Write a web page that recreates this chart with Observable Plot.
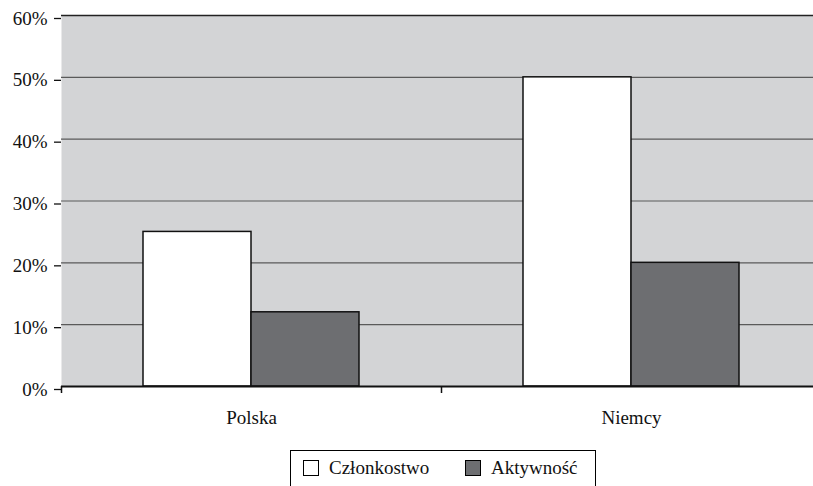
<!DOCTYPE html>
<html>
<head>
<meta charset="utf-8">
<script src="https://cdn.jsdelivr.net/npm/d3@7"></script>
<script src="https://cdn.jsdelivr.net/npm/@observablehq/plot@0.6"></script>
<style>
  body { margin: 0; background: #fff; font-family: "Liberation Serif", "Times New Roman", Times, "DejaVu Serif", "Noto Serif", serif; }
  #chart svg { display: block; }
  .legend { position: absolute; left: 290px; top: 450px; width: 306px; height: 50px; box-sizing: border-box;
    border: 1px solid #000; font-size: 19px; color: #111; }
  .item { position: absolute; top: 6px; display: flex; align-items: center; }
  .sw { width: 14px; height: 14px; border: 1px solid #000; margin-right: 10px; }
</style>
</head>
<body>
<div id="chart"></div>
<div class="legend">
  <div class="item" style="left:12px"><span class="sw" style="background:#fff"></span><span>Członkostwo</span></div>
  <div class="item" style="left:174px"><span class="sw" style="background:#6d6e71"></span><span>Aktywność</span></div>
</div>
<script>
const categories = ["Polska", "Niemcy"];
const series = ["Członkostwo", "Aktywność"];
const membership = [0.25, 0.50];
const activity = [0.12, 0.20];
const yTicks = [0, 0.1, 0.2, 0.3, 0.4, 0.5, 0.6];

const memberRows = categories.map((c, i) => ({category: c, value: membership[i]}));
const activityRows = categories.map((c, i) => ({category: c, value: activity[i]}));

const chart = Plot.plot({
  width: 813,
  height: 445,
  marginLeft: 61,
  marginRight: 0,
  marginTop: 15,
  marginBottom: 59,
  style: {fontFamily: "\"Liberation Serif\", \"Times New Roman\", Times, \"DejaVu Serif\", serif", fontSize: "19px", color: "#111", background: "#fff"},
  x: {domain: categories, range: [61, 821], padding: 0, label: null},
  y: {domain: [0, 0.6], label: null},
  marks: [
    Plot.frame({fill: "#d3d4d6", stroke: null}),
    Plot.ruleY(yTicks.slice(1, -1), {stroke: "#5a5a5a", strokeWidth: 1.2}),
    Plot.ruleY([0.6], {stroke: "#222", strokeWidth: 1.5}),
    Plot.barY(memberRows, {x: "category", y: "value", fill: "#fff", stroke: "#111", strokeWidth: 1.5, insetLeft: 82, insetRight: 190}),
    Plot.barY(activityRows, {x: "category", y: "value", fill: "#6d6e71", stroke: "#111", strokeWidth: 1.5, insetLeft: 190, insetRight: 82}),
    Plot.ruleY([0], {stroke: "#111", strokeWidth: 2}),
    Plot.axisY({ticks: yTicks, tickFormat: d => Math.round(d * 100) + "%", tickSize: 7, tickPadding: 7, stroke: "#111", strokeWidth: 1.3, dy: 3}),
    Plot.ruleX([0], {x: () => 61, y1: 0, y2: 0.6, stroke: "#111", strokeWidth: 2}),
    Plot.axisX({tickSize: 7, tickFormat: null, dx: -190, stroke: "#111", strokeWidth: 1.5, text: null}),
    Plot.axisX({tickSize: 0, tickPadding: 24, stroke: null})
  ]
});
document.getElementById("chart").appendChild(chart);
</script>
</body>
</html>
